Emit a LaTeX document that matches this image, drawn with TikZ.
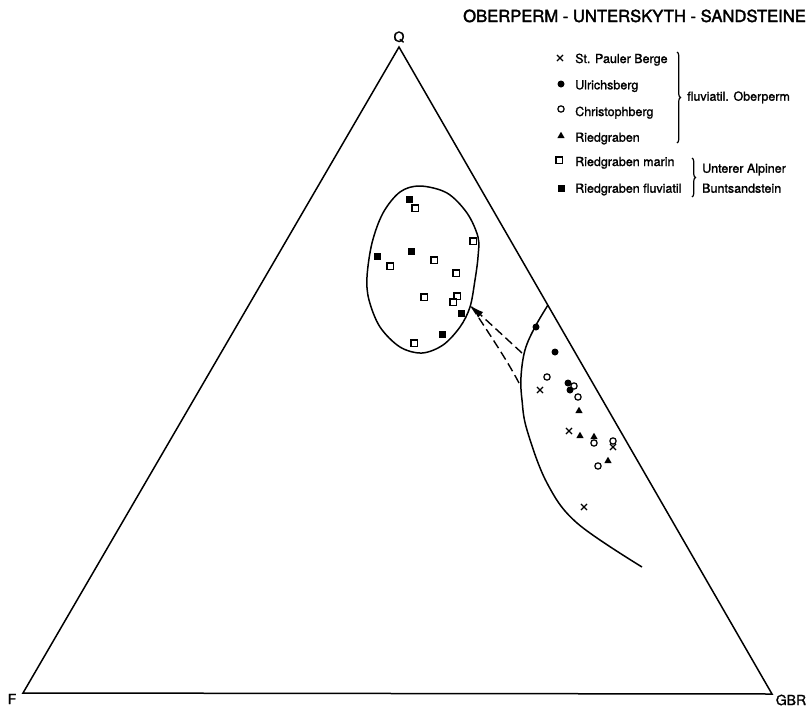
\documentclass[tikz,border=0pt]{standalone}
\usepackage{fontspec}
\setmainfont{TeX Gyre Heros}[FakeBold=1.4]
\newfontfamily\titlefont{TeX Gyre Heros}[FakeBold=2.2]
\usetikzlibrary{shapes.geometric,shapes.misc,arrows.meta,decorations.pathreplacing}
\begin{document}
\begin{tikzpicture}[x=1pt,y=-1pt,
  fc/.style={circle,fill,inner sep=0pt,minimum size=7pt},
  oc/.style={circle,draw,line width=1.2pt,inner sep=0pt,minimum size=6.3pt},
  fs/.style={rectangle,fill,inner sep=0pt,minimum size=7pt},
  os/.style={rectangle,draw,line width=1.2pt,inner sep=0pt,minimum size=6.2pt},
  tri/.style={regular polygon,regular polygon sides=3,fill,inner sep=0pt,minimum size=8.5pt},
  xx/.style={cross out,draw,line width=1.1pt,inner sep=0pt,minimum size=5pt},
  edge/.style={line width=1.5pt},
  leg/.style={anchor=base west,font=\fontsize{12.5}{14}\selectfont,inner sep=0pt},
  dsh/.style={line width=1.4pt,dash pattern=on 9pt off 4.5pt},
  brc/.style={decorate,decoration={brace,amplitude=3.5pt},line width=1.2pt}]
\useasboundingbox (0,0) rectangle (812,710);
% triangle
\coordinate (Q) at (399,47);
\coordinate (F) at (23,693);
\coordinate (G) at (772,694);
\draw[edge,line join=miter] (Q) -- (F) -- (G) -- cycle;
\node[font=\fontsize{14}{16}\selectfont] (qlab) at (399,37) {Q};
\node[font=\fontsize{14}{16}\selectfont] (flab) at (12,699) {F};
\node[font=\fontsize{14}{16}\selectfont] (glab) at (791,700) {GBR};
% title
\node[anchor=base west,inner sep=0pt,font=\titlefont\fontsize{16.6}{18}\selectfont] (title) at (463,22) {OBERPERM - UNTERSKYTH - SANDSTEINE};
% legend
\node[xx] (l1) at (560,58) {};
\node[fc] (l2) at (561,84) {};
\node[oc] (l3) at (561,109) {};
\node[tri] (l4) at (561,136) {};
\node[os] (l5) at (559,160) {};
\node[fs] (l6) at (561,188) {};
\node[leg] (t1) at (575,63) {St. Pauler Berge};
\node[leg] (t2) at (575,89.3) {Ulrichsberg};
\node[leg] (t3) at (575,116) {Christophberg};
\node[leg] (t4) at (575,141.7) {Riedgraben};
\node[leg] (t5) at (575,166) {Riedgraben marin};
\node[leg] (t6) at (575,192.7) {Riedgraben fluviatil};
\coordinate (b1a) at (677,52);
\coordinate (b1b) at (677,143);
\draw[brc] (b1a) -- (b1b);
\node[leg] (g1) at (687,100.7) {fluviatil. Oberperm};
\coordinate (b2a) at (692,158);
\coordinate (b2b) at (692,197);
\draw[brc] (b2a) -- (b2b);
\node[leg] (g2) at (702,172.7) {Unterer Alpiner};
\node[leg] (g3) at (702,192.7) {Buntsandstein};
% ellipse region
\draw[edge] plot[smooth cycle,tension=0.55] coordinates {(420,186) (447,193) (467,213) (478,237) (478,257) (475,280) (470,307) (460,327) (443,345) (422,353) (400,347) (380,327) (369,300) (367,277) (372,243) (383,213) (400,192)};
% right region
\draw[edge] plot[smooth,tension=0.6] coordinates {(548,305) (535,327) (525,350) (521,377) (522,400) (527,430) (547,483) (577,523) (642,567)};
% arrow
\coordinate (tip) at (471,306);
\coordinate (d1) at (522,353);
\coordinate (d2) at (519,383);
\draw[dsh,-{Latex[length=13pt,width=7.5pt]}] (d1) -- (tip);
\draw[dsh] (d2) .. controls (507,360) and (490,335) .. (tip);
% points in ellipse
\node[fs] (e1) at (409,199) {};
\node[fs] (e2) at (411,251) {};
\node[fs] (e3) at (377,256) {};
\node[fs] (e4) at (461,313) {};
\node[fs] (e5) at (442,334) {};
\node[os] (e6) at (415,208) {};
\node[os] (e7) at (473,241) {};
\node[os] (e8) at (390,266) {};
\node[os] (e9) at (434,260) {};
\node[os] (e10) at (456,273) {};
\node[os] (e11) at (424,297) {};
\node[os] (e12) at (457,296) {};
\node[os] (e13) at (453,302) {};
\node[os] (e14) at (414,343) {};
% points in right region
\node[fc] (r1) at (536,327) {};
\node[fc] (r2) at (555,352) {};
\node[fc] (r3) at (568,383) {};
\node[fc] (r4) at (570,390) {};
\node[oc] (r5) at (547,377) {};
\node[oc] (r6) at (574,386) {};
\node[oc] (r7) at (578,397) {};
\node[oc] (r8) at (594,443) {};
\node[oc] (r9) at (613,441) {};
\node[oc] (r10) at (598,466) {};
\node[tri] (r11) at (579,411) {};
\node[tri] (r12) at (580,436) {};
\node[tri] (r13) at (594,437) {};
\node[tri] (r14) at (608,461) {};
\node[xx] (r15) at (540,390) {};
\node[xx] (r16) at (569,431) {};
\node[xx] (r17) at (613,447) {};
\node[xx] (r18) at (584,507) {};
\end{tikzpicture}
\end{document}
